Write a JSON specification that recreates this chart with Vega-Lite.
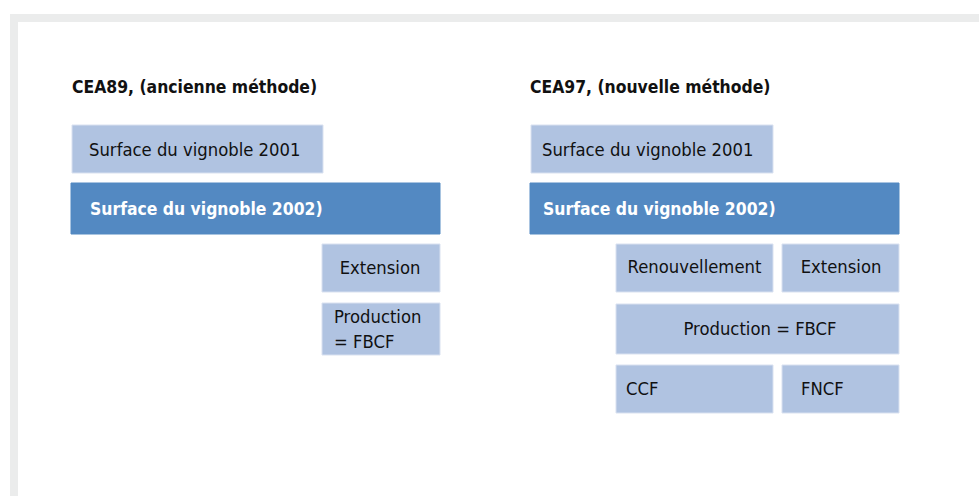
{
  "$schema": "https://vega.github.io/schema/vega-lite/v6.json",
  "width": 979,
  "height": 496,
  "autosize": {"type": "fit", "contains": "padding"},
  "padding": 0,
  "background": "#ffffff",
  "config": {"view": {"stroke": null}},
  "datasets": {
    "frame": [
      {"x": 10, "x2": 979, "y": 14, "y2": 22},
      {"x": 10, "x2": 18, "y": 14, "y2": 496}
    ],
    "boxes": [
      {"panel": "CEA89", "x": 72, "x2": 323, "y": 125, "y2": 173, "tone": "light"},
      {"panel": "CEA89", "x": 71, "x2": 440, "y": 183, "y2": 234, "tone": "dark"},
      {"panel": "CEA89", "x": 322, "x2": 440, "y": 244, "y2": 292, "tone": "light"},
      {"panel": "CEA89", "x": 322, "x2": 440, "y": 303, "y2": 355, "tone": "light"},
      {"panel": "CEA97", "x": 531, "x2": 773, "y": 125, "y2": 173, "tone": "light"},
      {"panel": "CEA97", "x": 530, "x2": 899, "y": 183, "y2": 234, "tone": "dark"},
      {"panel": "CEA97", "x": 616, "x2": 773, "y": 244, "y2": 292, "tone": "light"},
      {"panel": "CEA97", "x": 782, "x2": 899, "y": 244, "y2": 292, "tone": "light"},
      {"panel": "CEA97", "x": 616, "x2": 899, "y": 304, "y2": 354, "tone": "light"},
      {"panel": "CEA97", "x": 616, "x2": 773, "y": 365, "y2": 413, "tone": "light"},
      {"panel": "CEA97", "x": 782, "x2": 899, "y": 365, "y2": 413, "tone": "light"}
    ],
    "labels": [
      {"text": "CEA89, (ancienne méthode)", "x": 72, "y": 88, "role": "title", "anchor": "start"},
      {"text": "CEA97, (nouvelle méthode)", "x": 530, "y": 88, "role": "title", "anchor": "start"},
      {"text": "Surface du vignoble 2002)", "x": 90, "y": 210, "role": "header", "anchor": "start"},
      {"text": "Surface du vignoble 2002)", "x": 543, "y": 210, "role": "header", "anchor": "start"},
      {"text": "Surface du vignoble 2001", "x": 89, "y": 151, "role": "item", "anchor": "start"},
      {"text": "Surface du vignoble 2001", "x": 542, "y": 151, "role": "item", "anchor": "start"},
      {"text": "Extension", "x": 380, "y": 269, "role": "item", "anchor": "middle"},
      {"text": "Production", "x": 334, "y": 318, "role": "item", "anchor": "start"},
      {"text": "= FBCF", "x": 334, "y": 343, "role": "item", "anchor": "start"},
      {"text": "Renouvellement", "x": 694.5, "y": 268, "role": "item", "anchor": "middle"},
      {"text": "Extension", "x": 841, "y": 268, "role": "item", "anchor": "middle"},
      {"text": "Production = FBCF", "x": 760, "y": 330, "role": "item", "anchor": "middle"},
      {"text": "CCF", "x": 626, "y": 390, "role": "item", "anchor": "start"},
      {"text": "FNCF", "x": 801, "y": 390, "role": "item", "anchor": "start"}
    ]
  },
  "layer": [
    {
      "data": {"name": "frame"},
      "mark": {"type": "rect", "color": "#ebecec"},
      "encoding": {
        "x": {"field": "x", "type": "quantitative", "scale": {"domain": [0, 979], "nice": false, "zero": false}, "axis": null},
        "x2": {"field": "x2"},
        "y": {"field": "y", "type": "quantitative", "scale": {"domain": [0, 496], "nice": false, "zero": false, "reverse": true}, "axis": null},
        "y2": {"field": "y2"}
      }
    },
    {
      "data": {"name": "boxes"},
      "mark": {"type": "rect", "strokeWidth": 1},
      "encoding": {
        "x": {"field": "x", "type": "quantitative"},
        "x2": {"field": "x2"},
        "y": {"field": "y", "type": "quantitative"},
        "y2": {"field": "y2"},
        "fill": {"field": "tone", "type": "nominal", "scale": {"domain": ["light", "dark"], "range": ["#b0c3e1", "#5389c2"]}, "legend": null},
        "stroke": {"field": "tone", "type": "nominal", "scale": {"domain": ["light", "dark"], "range": ["#d9e1f0", "#5389c2"]}, "legend": null}
      }
    },
    {
      "data": {"name": "labels"},
      "transform": [{"filter": "datum.role === 'title'"}],
      "mark": {"type": "text", "align": "left", "baseline": "middle", "font": "DejaVu Sans Condensed", "fontSize": 17.4, "fontWeight": "bold", "color": "#111111"},
      "encoding": {
        "x": {"field": "x", "type": "quantitative"},
        "y": {"field": "y", "type": "quantitative"},
        "text": {"field": "text"}
      }
    },
    {
      "data": {"name": "labels"},
      "transform": [{"filter": "datum.role === 'header'"}],
      "mark": {"type": "text", "align": "left", "baseline": "middle", "font": "DejaVu Sans Condensed", "fontSize": 17.4, "fontWeight": "bold", "color": "#ffffff"},
      "encoding": {
        "x": {"field": "x", "type": "quantitative"},
        "y": {"field": "y", "type": "quantitative"},
        "text": {"field": "text"}
      }
    },
    {
      "data": {"name": "labels"},
      "transform": [{"filter": "datum.role === 'item' && datum.anchor === 'start'"}],
      "mark": {"type": "text", "align": "left", "baseline": "middle", "font": "DejaVu Sans Condensed", "fontSize": 18.3, "color": "#111111"},
      "encoding": {
        "x": {"field": "x", "type": "quantitative"},
        "y": {"field": "y", "type": "quantitative"},
        "text": {"field": "text"}
      }
    },
    {
      "data": {"name": "labels"},
      "transform": [{"filter": "datum.role === 'item' && datum.anchor === 'middle'"}],
      "mark": {"type": "text", "align": "center", "baseline": "middle", "font": "DejaVu Sans Condensed", "fontSize": 18.3, "color": "#111111"},
      "encoding": {
        "x": {"field": "x", "type": "quantitative"},
        "y": {"field": "y", "type": "quantitative"},
        "text": {"field": "text"}
      }
    }
  ]
}
